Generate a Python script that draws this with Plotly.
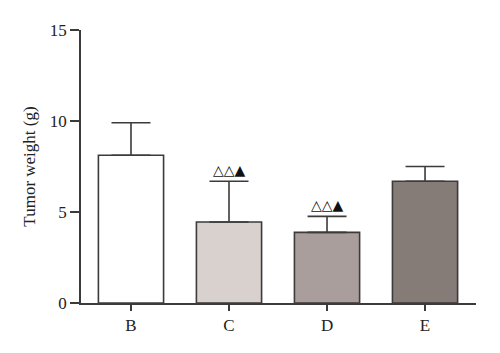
import plotly.graph_objects as go

categories = ["B", "C", "D", "E"]
means = [8.12, 4.45, 3.88, 6.69]
errors = [1.78, 2.24, 0.88, 0.81]
fill_colors = ["#ffffff", "#d9d1ce", "#a99e9b", "#857b77"]
sig_labels = ["", "△△▲", "△△▲", ""]
y_ticks = [0, 5, 10, 15]

line_col = "#3d3a3a"

fig = go.Figure()
fig.add_trace(go.Bar(
    x=categories, y=means,
    marker=dict(color=fill_colors, line=dict(color=line_col, width=1.6)),
    error_y=dict(type="data", array=errors, arrayminus=[0]*len(errors), symmetric=False,
                 color=line_col, thickness=1.6, width=19.5),
    showlegend=False,
))

for c, m, e, s in zip(categories, means, errors, sig_labels):
    if s:
        fig.add_annotation(x=c, y=m + e, text=s, showarrow=False, yanchor="bottom",
                           yshift=1, font=dict(family="DejaVu Sans", size=14, color="#111111"))

fig.update_layout(
    width=500, height=353,
    margin=dict(l=81, r=24, t=30, b=50),
    paper_bgcolor="white", plot_bgcolor="white",
    bargap=0.335,
    font=dict(family="Liberation Serif", size=17, color="#222222"),
    xaxis=dict(range=[-0.51, 3.52], showline=True, linecolor=line_col, linewidth=1.6,
               ticks="outside", ticklen=6, tickwidth=1.6, tickcolor=line_col,
               showgrid=False, zeroline=False, tickfont=dict(size=17)),
    yaxis=dict(range=[0, 15], tickvals=y_ticks, showline=True, linecolor=line_col, linewidth=1.6,
               ticks="outside", ticklen=9, tickwidth=1.6, tickcolor=line_col,
               showgrid=False, zeroline=False, tickfont=dict(size=17),
               title=dict(text="Tumor weight (g)", font=dict(size=17), standoff=10)),
)

fig.write_html("out.html")
